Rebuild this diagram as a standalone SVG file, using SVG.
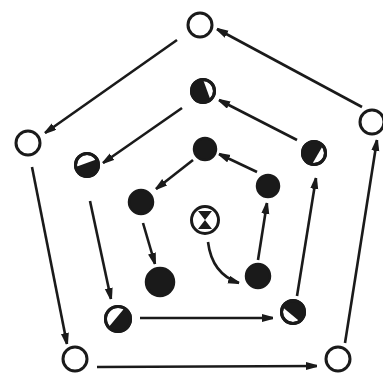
<svg xmlns="http://www.w3.org/2000/svg" width="383" height="376" viewBox="0 0 383 376">
<style>
.c{stroke:#1a1a1a;stroke-width:2.6;fill:none}
.w{fill:#fff;stroke:#1a1a1a;stroke-width:3}
.o{fill:none;stroke:#1a1a1a;stroke-width:3}
.b{fill:#1a1a1a;stroke:#1a1a1a;stroke-width:2.5}
.h{fill:#1a1a1a}
</style>
<defs>
<marker id="a" markerUnits="userSpaceOnUse" markerWidth="13" markerHeight="9" refX="11" refY="4" orient="auto">
<path d="M0,0 L11,3 L11,5 L0,8 Z" fill="#1a1a1a"/>
</marker>
</defs>
<rect width="383" height="376" fill="#fff"/>
<g id="connectors">
<line class="c" x1="177" y1="40" x2="45" y2="133" marker-end="url(#a)"/>
<line class="c" x1="362" y1="107" x2="217" y2="29" marker-end="url(#a)"/>
<line class="c" x1="32" y1="167" x2="67" y2="344" marker-end="url(#a)"/>
<line class="c" x1="97" y1="367" x2="317" y2="366" marker-end="url(#a)"/>
<line class="c" x1="345" y1="343" x2="377" y2="140" marker-end="url(#a)"/>
<line class="c" x1="182" y1="108" x2="103" y2="163" marker-end="url(#a)"/>
<line class="c" x1="297" y1="140" x2="219" y2="100" marker-end="url(#a)"/>
<line class="c" x1="90" y1="201" x2="111" y2="299" marker-end="url(#a)"/>
<line class="c" x1="140" y1="318" x2="273" y2="318" marker-end="url(#a)"/>
<line class="c" x1="297" y1="296" x2="316" y2="178" marker-end="url(#a)"/>
<line class="c" x1="193" y1="160" x2="156" y2="189" marker-end="url(#a)"/>
<line class="c" x1="257" y1="172" x2="219" y2="154" marker-end="url(#a)"/>
<line class="c" x1="143" y1="223" x2="155" y2="264" marker-end="url(#a)"/>
<line class="c" x1="258" y1="260" x2="267" y2="203" marker-end="url(#a)"/>
<path class="c" d="M208,242 Q212,274 239,283" marker-end="url(#a)"/>
</g>
<g id="outer-top"><circle class="w" cx="200" cy="25" r="12"/></g>
<g id="outer-left"><circle class="w" cx="28" cy="143" r="12"/></g>
<g id="outer-right"><circle class="w" cx="372" cy="122" r="12"/></g>
<g id="outer-bottom-left"><circle class="w" cx="75" cy="359" r="12"/></g>
<g id="outer-bottom-right"><circle class="w" cx="338" cy="359" r="12"/></g>
<g id="middle-top" transform="translate(203,91)"><circle class="w" r="11.5"/><path class="h" d="M-10.8,4 A11.5,11.5 0 1 1 10.8,4 Z" transform="rotate(-110)"/><circle class="o" r="11.5"/></g>
<g id="middle-left" transform="translate(87,165)"><circle class="w" r="11.5"/><path class="h" d="M-11.3,2 A11.5,11.5 0 1 1 11.3,2 Z" transform="rotate(160)"/><circle class="o" r="11.5"/></g>
<g id="middle-right" transform="translate(314,153)"><circle class="w" r="11.5"/><path class="h" d="M-10.8,4 A11.5,11.5 0 1 1 10.8,4 Z" transform="rotate(-60)"/><circle class="o" r="11.5"/></g>
<g id="middle-bottom-left" transform="translate(118,319)"><circle class="w" r="12.5"/><path class="h" d="M-12.3,2 A12.5,12.5 0 1 1 12.3,2 Z" transform="rotate(130)"/><circle class="o" r="12.5"/></g>
<g id="middle-bottom-right" transform="translate(293,312)"><circle class="w" r="11.5"/><path class="h" d="M-11,3 A11.5,11.5 0 1 1 11,3 Z" transform="rotate(40)"/><circle class="o" r="11.5"/></g>
<g id="inner-top"><circle class="b" cx="205" cy="149" r="11"/></g>
<g id="inner-left"><circle class="b" cx="141" cy="202" r="12"/></g>
<g id="inner-right"><circle class="b" cx="268" cy="186" r="11"/></g>
<g id="inner-bottom-left"><circle class="b" cx="160" cy="282" r="14"/></g>
<g id="inner-bottom-right"><circle class="b" cx="258" cy="276" r="12"/></g>
<g id="center" transform="translate(205,220)"><circle class="w" r="13.5" stroke-width="3.5"/><path class="h" d="M-7,-9 L7,-9 L0,0 Z M-7,9 L7,9 L0,0 Z"/></g>
</svg>
